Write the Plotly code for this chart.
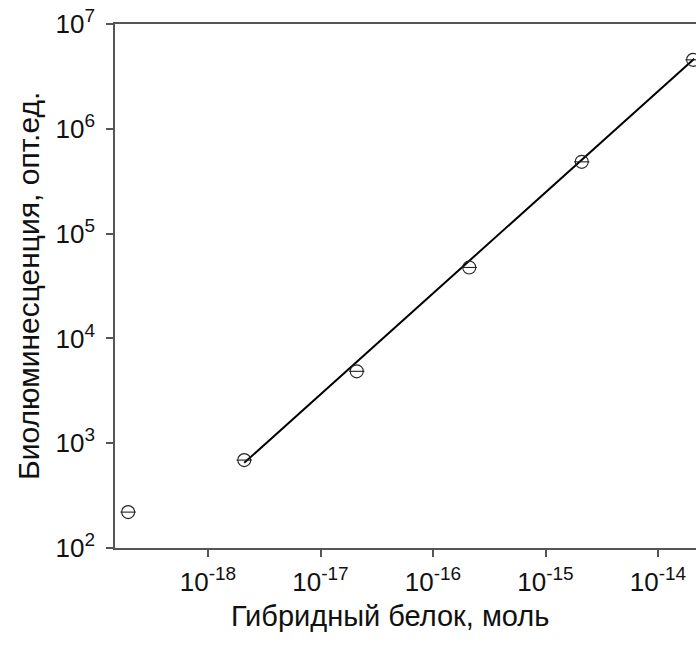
import plotly.graph_objects as go

# Data
protein_mol = [1.95e-19, 2.1e-18, 2.1e-17, 2.1e-16, 2.1e-15, 2.05e-14]
biolum = [220, 690, 4850, 47500, 484000, 4.55e6]

# Regression line endpoints
fit_x = [2.1e-18, 2.1e-14]
fit_y = [650, 4.65e6]

x_tickvals = [1e-18, 1e-17, 1e-16, 1e-15, 1e-14]
x_exps = ["-18", "-17", "-16", "-15", "-14"]
y_tickvals = [1e2, 1e3, 1e4, 1e5, 1e6, 1e7]
y_exps = ["2", "3", "4", "5", "6", "7"]

x_title = "Гибридный белок, моль"
y_title = "Биолюминесценция, опт.ед."

FONT = "Liberation Sans, Arial, sans-serif"


def power_label(e):
    return "10<sup><span style='font-size:19px'>" + e + "</span></sup>"


x_ticktext = [power_label(e) for e in x_exps]
y_ticktext = [power_label(e) for e in y_exps]

fig = go.Figure()
fig.add_trace(go.Scatter(x=fit_x, y=fit_y, mode="lines",
                         line=dict(color="black", width=2), showlegend=False,
                         cliponaxis=False))
fig.add_trace(go.Scatter(x=protein_mol, y=biolum, mode="markers",
                         marker=dict(symbol="circle-open", size=13,
                                     color="#222", line=dict(width=1.1, color="#222")),
                         showlegend=False, cliponaxis=False))
fig.add_trace(go.Scatter(x=protein_mol, y=biolum, mode="markers",
                         marker=dict(symbol="line-ew-open", size=11,
                                     color="#222", line=dict(width=1.1, color="#222")),
                         showlegend=False, cliponaxis=False))

L, T, B, R = 115, 24, 100, 0
W, H = 696, 648
decade_px = 112.5
left_log = -18 - (208 - L) / decade_px
right_log = left_log + (W - L - R) / decade_px

fig.update_layout(
    width=W, height=H,
    margin=dict(l=L, r=R, t=T, b=B, pad=0),
    paper_bgcolor="white", plot_bgcolor="white",
    font=dict(family=FONT, color="#111"),
    xaxis=dict(type="log", range=[left_log, right_log],
               tickvals=x_tickvals, ticktext=x_ticktext,
               ticks="outside", ticklen=7, tickwidth=1.5, tickcolor="#555",
               ticklabelstandoff=3,
               showline=True, linecolor="#555", linewidth=1.5, mirror=True,
               showgrid=False, zeroline=False,
               tickfont=dict(size=26, family=FONT, color="#111")),
    yaxis=dict(type="log", range=[2, 7],
               tickvals=y_tickvals, ticktext=y_ticktext,
               ticks="outside", ticklen=7, tickwidth=1.5, tickcolor="#555",
               ticklabelstandoff=6,
               showline=True, linecolor="#555", linewidth=1.5,
               showgrid=False, zeroline=False,
               tickfont=dict(size=26, family=FONT, color="#111")),
    annotations=[
        dict(text=x_title, xref="paper", yref="paper",
             x=(390 - L) / (W - L - R), y=(H - B - 616) / (H - B - T),
             xanchor="center", yanchor="middle", showarrow=False,
             font=dict(size=29, family=FONT, color="#111")),
        dict(text=y_title, xref="paper", yref="paper",
             x=(28 - L) / (W - L - R), y=0.5, textangle=-90,
             xanchor="center", yanchor="middle", showarrow=False,
             font=dict(size=30, family=FONT, color="#111")),
    ],
)

fig.write_html("out.html")
